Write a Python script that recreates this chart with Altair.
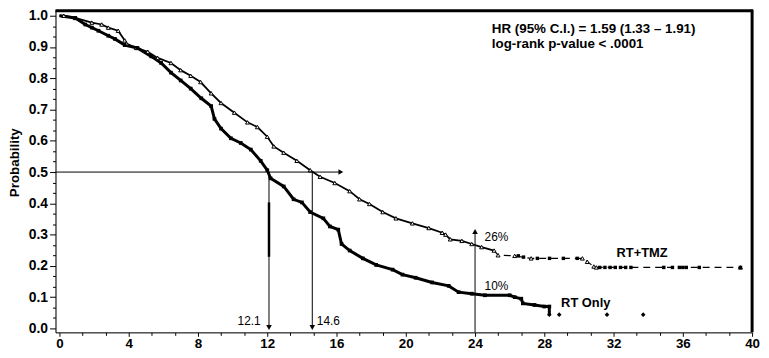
import altair as alt
import pandas as pd

# ---------------- data ----------------
tmz_month = [0, 0.25, 0.91, 1.87, 2.44, 2.82, 3.39, 3.77, 3.87, 4.44, 5.1, 5.67, 6.44, 7.0, 7.58,
             8.15, 8.76, 9.33, 10.1, 10.86, 11.43, 12.0, 12.38, 12.95, 13.71, 14.48, 15.05, 15.9,
             16.76, 17.33, 17.9, 18.67, 19.43, 20.38, 21.33, 22.1, 22.3, 22.57, 23.24, 23.81, 24.38,
             25.1, 25.33, 26.29, 27.24, 30.2, 30.48, 30.86, 31.0, 39.33]
tmz_surv = [1.0, 1.0, 0.993, 0.978, 0.972, 0.962, 0.952, 0.921, 0.911, 0.897, 0.885, 0.865, 0.849,
            0.826, 0.808, 0.788, 0.752, 0.721, 0.690, 0.659, 0.644, 0.613, 0.582, 0.562, 0.536,
            0.506, 0.485, 0.465, 0.439, 0.413, 0.398, 0.372, 0.352, 0.336, 0.321, 0.306, 0.300,
            0.285, 0.280, 0.270, 0.260, 0.249, 0.234, 0.232, 0.224, 0.224, 0.213, 0.198, 0.195, 0.195]

tmz_cens_month = [26.5, 26.8, 27.6, 28.3, 29.1, 29.9, 31.2, 31.5, 31.8, 32.1, 32.4, 32.7, 33.0,
                  34.9, 35.4, 35.8, 36.0, 36.2, 36.95, 39.33]
tmz_cens_surv = [0.232, 0.228, 0.224, 0.224, 0.224, 0.224, 0.195, 0.195, 0.195, 0.195, 0.195, 0.195,
                 0.195, 0.195, 0.195, 0.195, 0.195, 0.195, 0.195, 0.195]

rt_month = [0, 0.91, 1.49, 1.87, 2.25, 2.82, 3.2, 3.77, 4.5, 5.3, 5.87, 6.44, 7.0, 7.58, 8.19,
            8.76, 8.95, 9.33, 9.9, 10.47, 11.05, 11.62, 12.0, 12.19, 12.95, 13.52, 14.0, 14.48,
            15.24, 15.62, 16.1, 16.29, 16.76, 17.52, 18.29, 19.24, 19.81, 20.57, 21.52, 22.48,
            23.05, 23.81, 24.57, 26.0, 26.29, 26.67, 26.76, 27.43, 28.0, 28.29, 28.29]
rt_surv = [1.0, 0.993, 0.972, 0.962, 0.952, 0.936, 0.926, 0.906, 0.897, 0.870, 0.849, 0.818, 0.793,
           0.767, 0.736, 0.711, 0.670, 0.639, 0.608, 0.593, 0.572, 0.536, 0.506, 0.480, 0.454,
           0.413, 0.403, 0.372, 0.352, 0.326, 0.316, 0.270, 0.249, 0.224, 0.203, 0.188, 0.172,
           0.162, 0.147, 0.136, 0.116, 0.111, 0.106, 0.106, 0.100, 0.095, 0.080, 0.075, 0.070,
           0.070, 0.044]

rt_cens_month = [28.86, 31.62, 33.71]
rt_cens_surv = [0.044, 0.044, 0.044]

x_ticks = [0, 4, 8, 12, 16, 20, 24, 28, 32, 36, 40]
y_ticks = [0.0, 0.1, 0.2, 0.3, 0.4, 0.5, 0.6, 0.7, 0.8, 0.9, 1.0]

median_rt = 12.1
median_tmz = 14.6
landmark = 24

stats_lines = ["HR (95% C.I.) = 1.59 (1.33 \u2013 1.91)", "log-rank p-value < .0001"]
series_names = ["RT+TMZ", "RT Only"]
pct_labels = ["26%", "10%"]

# ---------------- layout ----------------
W, H = 704, 326
XDOM = [-0.23, 40]
YDOM = [-0.0127, 1.019]
FONT = "Liberation Sans"

xs = alt.Scale(domain=XDOM, nice=False, zero=False)
ys = alt.Scale(domain=YDOM, nice=False, zero=False)

x_minor_vals = [round(k * 4 / 3, 4) for k in range(31) if k % 3 != 0]
y_minor_vals = [round(k / 30, 5) for k in range(31) if k % 3 != 0]

x_major = alt.Axis(values=x_ticks, format="d", orient="bottom", tickSize=4, labelPadding=0,
                   title=None, grid=False, labelFontSize=13.5, labelFontWeight="bold",
                   labelFont=FONT, labelColor="black", tickColor="black", domainColor="black",
                   labelFlush=False, labelOverlap=False, labelBound=False)
y_major = alt.Axis(values=y_ticks, format=".1f", orient="left", tickSize=6, labelPadding=2,
                   title="Probability", titleX=-41, titleY=154, titleAngle=270,
                   titleAlign="center", titleBaseline="middle", titleFont=FONT,
                   titleFontSize=13.5, titleFontWeight="bold", titleColor="black",
                   grid=False, labelFontSize=14, labelFontWeight="bold", labelFont=FONT,
                   labelColor="black", tickColor="black", domainColor="black",
                   labelFlush=False, labelOverlap=False, labelBound=False)
x_minor = alt.Axis(values=x_minor_vals, labels=False, tickSize=3, domain=False, orient="bottom",
                   title=None, grid=False, tickColor="black")
y_minor = alt.Axis(values=y_minor_vals, labels=False, tickSize=3, domain=False, orient="left",
                   title=None, grid=False, tickColor="black")

tmz_df = pd.DataFrame({"month": tmz_month, "surv": tmz_surv, "i": range(len(tmz_month))})
rt_df = pd.DataFrame({"month": rt_month, "surv": rt_surv, "i": range(len(rt_month))})
tmz_c = pd.DataFrame({"month": tmz_cens_month, "surv": tmz_cens_surv})
rt_c = pd.DataFrame({"month": rt_cens_month, "surv": rt_cens_surv})


def X(axis=None):
    return alt.X("month:Q", scale=xs, axis=axis)


def Y(axis=None):
    return alt.Y("surv:Q", scale=ys, axis=axis)


tmz_solid = alt.Chart(tmz_df[tmz_df.month <= 25.1]).mark_line(
    color="black", strokeWidth=1.8).encode(x=X(x_major), y=Y(y_major), order="i:Q")
tmz_dash = alt.Chart(tmz_df[tmz_df.month >= 25.1]).mark_line(
    color="black", strokeWidth=1.2, strokeDash=[7, 5]).encode(x=X(), y=Y(), order="i:Q")
rt_line = alt.Chart(rt_df).mark_line(color="black", strokeWidth=3).encode(
    x=X(x_minor), y=Y(y_minor), order="i:Q")

tmz_pts = alt.Chart(tmz_df.iloc[1:]).mark_point(
    shape="triangle-up", size=16, filled=True, fill="white", stroke="black", strokeWidth=1,
    opacity=1).encode(x=X(), y=Y())
tmz_cpts = alt.Chart(tmz_c).mark_point(
    shape="square", size=12, filled=True, color="black", opacity=1).encode(x=X(), y=Y())
rt_pts = alt.Chart(rt_df.iloc[1:-1]).mark_point(
    shape="square", size=14, filled=True, color="black", opacity=1).encode(x=X(), y=Y())
rt_cpts = alt.Chart(pd.concat([rt_df.iloc[-1:][["month", "surv"]], rt_c])).mark_point(
    shape="diamond", size=22, filled=True, color="black", opacity=1).encode(x=X(), y=Y())

# annotation lines (median / landmark guides)
h_df = pd.DataFrame({"x": [XDOM[0]], "x2": [16.2], "y": [0.5]})
h_rule = alt.Chart(h_df).mark_rule(color="black", strokeWidth=1).encode(
    x=alt.X("x:Q", scale=xs, axis=None), x2="x2:Q", y=alt.Y("y:Q", scale=ys, axis=None))

v_df = pd.DataFrame({"x": [median_rt, median_tmz, landmark], "y": [0.5, 0.5, -0.0127],
                     "y2": [0.01, 0.01, 0.31]})
v_rule = alt.Chart(v_df).mark_rule(color="black", strokeWidth=1).encode(
    x=alt.X("x:Q", scale=xs, axis=None), y=alt.Y("y:Q", scale=ys, axis=None), y2="y2:Q")

thick_df = pd.DataFrame({"x": [median_rt], "y": [0.229], "y2": [0.403]})
thick_rule = alt.Chart(thick_df).mark_rule(color="black", strokeWidth=2.5).encode(
    x=alt.X("x:Q", scale=xs, axis=None), y=alt.Y("y:Q", scale=ys, axis=None), y2="y2:Q")

head_df = pd.DataFrame({"x": [16.25, median_rt, median_tmz, landmark],
                        "y": [0.5, 0.003, 0.003, 0.31],
                        "shape": ["triangle-right", "triangle-down", "triangle-down", "triangle-up"]})
heads = alt.Chart(head_df).mark_point(filled=True, color="black", size=32, opacity=1).encode(
    x=alt.X("x:Q", scale=xs, axis=None), y=alt.Y("y:Q", scale=ys, axis=None),
    shape=alt.Shape("shape:N", scale=None))

# texts
txt_small = pd.DataFrame({"x": [14.86, 24.55, 24.55], "y": [0.022, 0.291, 0.136],
                          "t": ["14.6", pct_labels[0], pct_labels[1]]})
t_small = alt.Chart(txt_small).mark_text(align="left", baseline="middle", font=FONT,
                                         fontSize=12, color="black").encode(
    x=alt.X("x:Q", scale=xs, axis=None), y=alt.Y("y:Q", scale=ys, axis=None), text="t:N")
txt_r = pd.DataFrame({"x": [11.62], "y": [0.022], "t": ["12.1"]})
t_r = alt.Chart(txt_r).mark_text(align="right", baseline="middle", font=FONT,
                                 fontSize=12, color="black").encode(
    x=alt.X("x:Q", scale=xs, axis=None), y=alt.Y("y:Q", scale=ys, axis=None), text="t:N")
txt_ser = pd.DataFrame({"x": [32.17, 28.97], "y": [0.242, 0.082], "t": series_names})
t_ser = alt.Chart(txt_ser).mark_text(align="left", baseline="middle", font=FONT,
                                     fontSize=13, fontWeight="bold", color="black").encode(
    x=alt.X("x:Q", scale=xs, axis=None), y=alt.Y("y:Q", scale=ys, axis=None), text="t:N")
txt_stat = pd.DataFrame({"x": [24.97, 24.97], "y": [0.959, 0.908], "t": stats_lines})
t_stat = alt.Chart(txt_stat).mark_text(align="left", baseline="middle", font=FONT,
                                       fontSize=13.5, fontWeight="bold", color="black").encode(
    x=alt.X("x:Q", scale=xs, axis=None), y=alt.Y("y:Q", scale=ys, axis=None), text="t:N")

# frame (top and right borders)
one = pd.DataFrame({"a": [0]})
top_border = alt.Chart(one).mark_rule(color="black", strokeWidth=3).encode(
    x=alt.value(0), x2=alt.value(W + 1), y=alt.value(1))
right_border = alt.Chart(one).mark_rule(color="black", strokeWidth=3).encode(
    x=alt.value(W), y=alt.value(0), y2=alt.value(H))

chart = alt.layer(
    tmz_solid, rt_line, tmz_dash, tmz_pts, tmz_cpts, rt_pts, rt_cpts,
    h_rule, v_rule, thick_rule, heads, t_small, t_r, t_ser, t_stat,
    top_border, right_border,
).resolve_axis(x="independent", y="independent").properties(
    width=W, height=H,
    autosize=alt.AutoSizeParams(type="none"),
    padding={"left": 48, "top": 0, "right": 9, "bottom": 16},
).configure_view(stroke=None).configure(background="white")

chart.save("out.html", embed_options={"renderer": "svg", "actions": False})
